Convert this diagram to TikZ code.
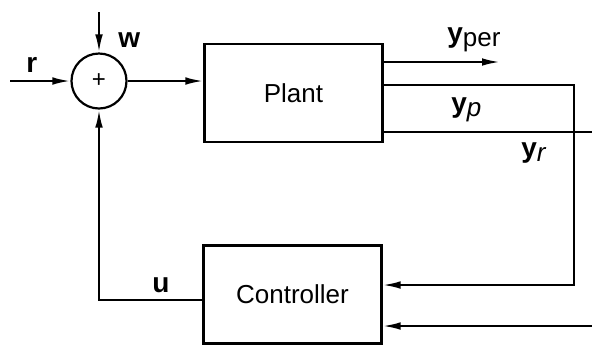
\documentclass[tikz,border=0pt]{standalone}
\usepackage{fontspec}
\setmainfont{Liberation Sans}
\usetikzlibrary{arrows.meta,positioning}
\tikzset{
    blockbox/.style={draw, line width=1.1pt, font=\fontsize{13}{15}\selectfont, minimum width=89pt, minimum height=49pt, inner sep=0pt},
    sumnode/.style={draw, circle, line width=1.1pt, minimum size=27.5pt, inner sep=0pt, font=\fontsize{12}{14}\selectfont},
    sigarrow/.style={-{Latex[length=9pt,width=3.8pt]}, line width=1.1pt},
    sigline/.style={line width=1.1pt},
    siglabel/.style={font=\fontsize{14}{16}\selectfont\bfseries, inner sep=0pt, anchor=base west}
}
\newcommand{\sigsub}[2]{\textbf{#1}\raisebox{-2pt}{\fontsize{13}{15}\mdseries\selectfont #2}}

\begin{document}
\begin{tikzpicture}[x=0.5pt, y=-0.5pt]
    \useasboundingbox (0,0) rectangle (592,345);

    \node[sumnode] (sum) at (99,81) {+};
    \node[blockbox] (plant) at (293.5,93) {Plant};
    \node[blockbox] (ctrl) at (292.5,294.5) {Controller};

    \coordinate (rin) at (10,81);
    \coordinate (win) at (99,12);
    \coordinate (yperend) at (500,62);
    \coordinate (ypcorner) at (574,85);
    \coordinate (ypdown) at (574,285);
    \coordinate (yrend) at (592,132);
    \coordinate (yrin) at (592,326);
    \coordinate (ucorner) at (99,300);

    \draw[sigarrow] (rin) -- (sum.west);
    \draw[sigarrow] (win) -- (sum.north);
    \draw[sigarrow] (sum.east) -- (sum.east -| plant.west);
    \draw[sigarrow] (plant.east |- yperend) -- (yperend);
    \draw[sigarrow] (plant.east |- ypcorner) -- (ypcorner) -- (ypdown) -- (ypdown -| ctrl.east);
    \draw[sigline] (plant.east |- yrend) -- (yrend);
    \draw[sigarrow] (yrin) -- (yrin -| ctrl.east);
    \draw[sigarrow] (ctrl.west |- ucorner) -- (ucorner) -- (sum.south);

    \node[siglabel] (rlab) at (26,72) {r};
    \node[siglabel] (wlab) at (118,47) {w};
    \node[siglabel] (ulab) at (152,292) {u};
    \node[siglabel] (yperlab) at (447,42) {\sigsub{y}{per}};
    \node[siglabel] (yplab) at (451,112) {\sigsub{y}{\itshape p}};
    \node[siglabel] (yrlab) at (521,157) {\sigsub{y}{\itshape r}};
\end{tikzpicture}
\end{document}
